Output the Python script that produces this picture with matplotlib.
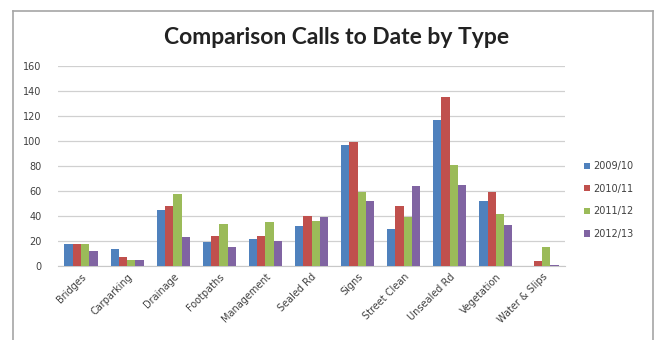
import numpy as np
from matplotlib import pyplot as plt
from matplotlib.lines import Line2D

categories = ['Bridges', 'Carparking', 'Drainage', 'Footpaths', 'Management',
              'Sealed Rd', 'Signs', 'Street Clean', 'Unsealed Rd', 'Vegetation',
              'Water & Slips']
y2009 = [18, 14, 45, 19, 22, 32, 97, 30, 117, 52, 0]
y2010 = [18, 7, 48, 24, 24, 40, 99, 48, 135, 59, 4]
y2011 = [18, 5, 58, 34, 35, 36, 59, 39, 81, 42, 15]
y2012 = [12, 5, 23, 15, 20, 39, 52, 64, 65, 33, 1]
series_names = ['2009/10', '2010/11', '2011/12', '2012/13']
colours = ['#4F81BD', '#C0504D', '#9BBB59', '#8064A2']

fig = plt.figure(figsize=(6.6, 3.4), dpi=100)
fig.patch.set_facecolor('white')

# outer chart frame
for xs, ys in [((13/660, 13/660), (0, 1 - 11/340)),
               ((13/660, 653/660), (1 - 11/340, 1 - 11/340)),
               ((653/660, 653/660), (0, 1 - 11/340))]:
    fig.add_artist(Line2D(xs, ys, color='#A6A6A6', lw=1.2, transform=fig.transFigure))

ax = fig.add_axes([58/660, 1 - 266/340, 507/660, 200/340])

x = np.arange(len(categories))
w = 0.18
for i, (vals, name) in enumerate(zip([y2009, y2010, y2011, y2012], series_names)):
    ax.bar(x + (i - 1.5) * w, vals, w, color=colours[i], label=name, zorder=3)

ax.set_xlim(-0.5, len(categories) - 0.5)
ax.set_ylim(0, 160)
ax.set_yticks(range(0, 161, 20))
ax.yaxis.grid(True, color='#D0D0D0', lw=0.9, zorder=0)
for s in ['top', 'right', 'left']:
    ax.spines[s].set_visible(False)
ax.spines['bottom'].set_color('#C8C8C8')
ax.tick_params(axis='both', length=0, labelsize=7, labelcolor='#404040')
ax.tick_params(axis='y', pad=12)
ax.tick_params(axis='x', pad=4)
ax.set_xticks(x)
ax.set_xticklabels(categories, rotation=45, ha='right', rotation_mode='anchor')

fig.text(0.51, 1 - 37/340, 'Comparison Calls to Date by Type', ha='center', va='center',
         fontsize=16.5, fontweight='bold', family='Lato', color='#222222')

ax.legend(loc='center left', bbox_to_anchor=(1.02, 0.33), frameon=False,
          fontsize=7, handlelength=0.6, handleheight=0.6, handletextpad=0.4,
          labelspacing=1.3, labelcolor='#404040')

plt.savefig('out.png', dpi=100)
